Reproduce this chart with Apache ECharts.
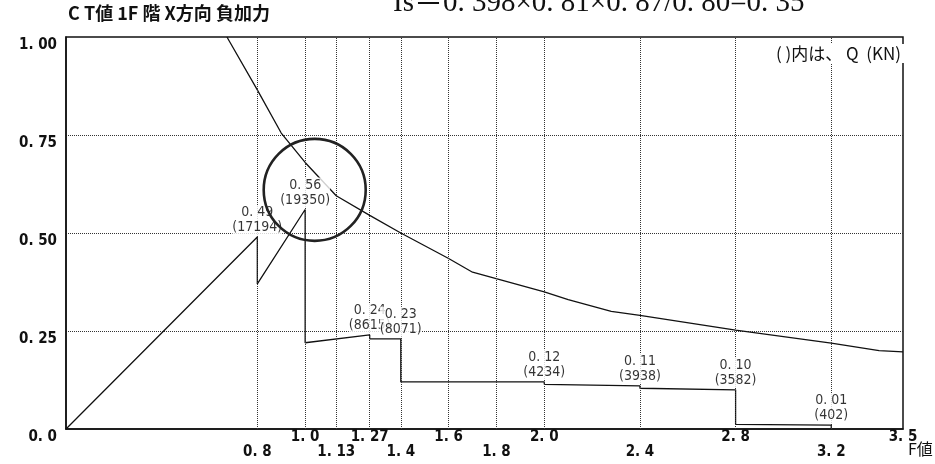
<!DOCTYPE html>
<html>
<head>
<meta charset="utf-8">
<script src="https://cdn.jsdelivr.net/npm/echarts@6/dist/echarts.min.js"></script>
<style>
  html, body { margin: 0; padding: 0; background: #fff; }
  #chart { width: 935px; height: 464px; }
</style>
</head>
<body>
<div id="chart"></div>
<script>
// CT–F diagram, 1st floor, X direction, negative loading

// CT value step line (F value, CT value)
const stepF  = [0, 0.8, 0.8, 1.0, 1.0, 1.27, 1.27, 1.4, 1.4, 2.0, 2.0, 2.4, 2.4, 2.8, 2.8, 3.2, 3.2];
const stepCT = [0, 0.49, 0.37, 0.56, 0.22, 0.24, 0.23, 0.23, 0.12, 0.12, 0.114, 0.11, 0.104, 0.10, 0.012, 0.01, 0];

// Annotated points: F value, CT value, storey shear Q (kN)
const markF  = [0.8, 1.0, 1.27, 1.4, 2.0, 2.4, 2.8, 3.2];
const markCT = [0.49, 0.56, 0.24, 0.23, 0.12, 0.11, 0.10, 0.01];
const markQ  = [17194, 19350, 8615, 8071, 4234, 3938, 3582, 402];

// Required CT curve
const curveF  = [0.673, 0.8, 0.9, 1.0, 1.13, 1.27, 1.4, 1.6, 1.7, 2.0, 2.1, 2.28, 2.4, 2.8, 3.2, 3.4, 3.5];
const curveCT = [1.0, 0.865, 0.755, 0.68, 0.595, 0.545, 0.50, 0.435, 0.40, 0.35, 0.33, 0.30, 0.29, 0.252, 0.219, 0.20, 0.197];

// F value grid lines and tick labels (two staggered rows)
const gridF       = [0.8, 1.0, 1.13, 1.27, 1.4, 1.6, 1.8, 2.0, 2.4, 2.8, 3.2];
const xTicksUpper = [1.0, 1.27, 1.6, 2.0, 2.8, 3.5];
const xTicksLower = [0.8, 1.13, 1.4, 1.8, 2.4, 3.2];

// Hand-drawn ring around the F = 1.0 peak (data coords, radius px)
const ringCenter = [1.04, 0.61];
const ringRadius = 51;

const NUM_FONT = '"Liberation Sans Narrow", "DejaVu Sans Condensed", "Noto Sans CJK JP", sans-serif';
const JP_FONT = '"Noto Sans CJK JP", sans-serif';
const INK = '#111';

function fmtX(v) {
  const s = (Math.round(v * 100) % 10 === 0) ? v.toFixed(1) : v.toFixed(2);
  return s.replace('.', '. ');
}
function fmtY(v) {
  return v === 0 ? '0. 0' : v.toFixed(2).replace('.', '. ');
}

const chart = echarts.init(document.getElementById('chart'), null, { renderer: 'canvas' });

chart.setOption({
  animation: false,
  backgroundColor: '#fff',
  grid: {
    left: 66, right: 32, top: 37, bottom: 35,
    outerBoundsMode: 'none',
    containLabel: false,
    show: true, borderColor: INK, borderWidth: 1.5
  },
  xAxis: {
    type: 'value', min: 0, max: 3.5,
    axisLine: { show: true, lineStyle: { color: INK, width: 1.5 } },
    axisTick: { show: false },
    splitLine: { show: false },
    axisLabel: {
      customValues: xTicksUpper.concat(xTicksLower),
      formatter: v => (xTicksLower.indexOf(v) >= 0 ? '\n' : '') + fmtX(v),
      margin: 1,
      verticalAlign: 'top',
      lineHeight: 15,
      fontSize: 15,
      fontWeight: 'bold',
      fontFamily: NUM_FONT,
      color: INK
    }
  },
  yAxis: {
    type: 'value', min: 0, max: 1, interval: 0.25,
    axisLine: { show: true, lineStyle: { color: INK, width: 1.5 } },
    axisTick: { show: false },
    splitLine: {
      show: true, showMinLine: false, showMaxLine: false,
      lineStyle: { type: 'dotted', color: '#333', width: 1 }
    },
    axisLabel: {
      formatter: fmtY,
      margin: 9,
      verticalAlign: 'top',
      padding: [1, 0, 0, 0],
      fontSize: 15,
      fontWeight: 'bold',
      fontFamily: NUM_FONT,
      color: INK
    }
  },
  series: [
    {
      name: 'grid',
      type: 'line',
      data: [],
      z: 1,
      silent: true,
      markLine: {
        silent: true,
        symbol: 'none',
        label: { show: false },
        lineStyle: { type: 'dotted', color: '#333', width: 1 },
        data: gridF.map(v => ({ xAxis: v }))
      }
    },
    {
      name: 'required',
      type: 'line',
      data: curveF.map((f, i) => [f, curveCT[i]]),
      showSymbol: false,
      lineStyle: { color: INK, width: 1.3 },
      z: 3
    },
    {
      name: 'CT',
      type: 'line',
      data: stepF.map((f, i) => [f, stepCT[i]]),
      showSymbol: false,
      lineStyle: { color: INK, width: 1.3 },
      z: 3
    },
    {
      name: 'labels',
      type: 'scatter',
      data: markF.map((f, i) => [f, markCT[i], markQ[i]]),
      symbolSize: 0,
      z: 5,
      label: {
        show: true,
        position: 'top',
        distance: 2,
        formatter: p => fmtY(p.value[1]) + '\n(' + p.value[2] + ')',
        backgroundColor: '#fff',
        lineHeight: 15,
        fontSize: 14,
        fontFamily: NUM_FONT,
        color: '#000'
      }
    }
  ]
});

const c = chart.convertToPixel({ gridIndex: 0 }, ringCenter);
const axisEnd = chart.convertToPixel({ gridIndex: 0 }, [3.5, 0]);

chart.setOption({
  graphic: [
    {
      type: 'text', left: 393, top: -11, z: 10,
      style: {
        text: 'Is＝0. 398×0. 81×0. 87/0. 80=0. 35',
        font: '29px "Liberation Serif", "Noto Sans CJK JP", serif',
        fill: INK
      }
    },
    {
      type: 'text', left: 68, top: 4, z: 10,
      style: {
        text: 'C T値 1F 階 X方向 負加力',
        font: 'bold 18px ' + JP_FONT,
        fill: INK
      }
    },
    {
      type: 'text', right: 31, top: 44, z: 10,
      style: {
        text: '( )内は、 Q  (KN)',
        font: '17px ' + JP_FONT,
        fill: INK,
        backgroundColor: '#fff',
        padding: [1, 3, 1, 2]
      }
    },
    {
      // axis name under the right end of the F axis
      type: 'text', x: axisEnd[0] + 5, y: axisEnd[1] + 12, z: 10,
      style: {
        text: 'F値',
        font: '16px ' + JP_FONT,
        fill: INK
      }
    },
    {
      type: 'circle', z: 20,
      shape: { cx: c[0], cy: c[1], r: ringRadius },
      style: { fill: 'none', stroke: '#222', lineWidth: 2.6 }
    }
  ]
});
</script>
</body>
</html>
